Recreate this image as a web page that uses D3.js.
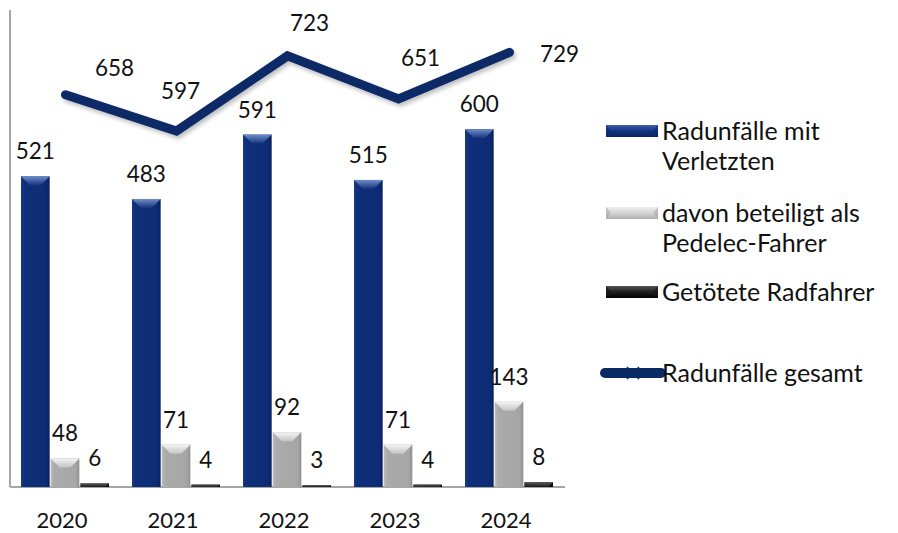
<!DOCTYPE html>
<html>
<head>
<meta charset="utf-8">
<script src="https://cdn.jsdelivr.net/npm/d3@7"></script>
<style>
  body { margin: 0; background: #fff; }
  svg text { font-family: Lato, "Open Sans", sans-serif; fill: #111; }
</style>
</head>
<body>
<div id="chart"></div>
<script>
const years = ['2020', '2021', '2022', '2023', '2024']
const verletzte = [521, 483, 591, 515, 600]
const pedelec = [48, 71, 92, 71, 143]
const getoetet = [6, 4, 3, 4, 8]
const gesamt = [658, 597, 723, 651, 729]
const seriesNames = ['Radunfälle mit Verletzten', 'davon beteiligt als Pedelec-Fahrer', 'Getötete Radfahrer', 'Radunfälle gesamt']

// manual label offsets for the line labels (Excel placed them by hand)
const lineLabelOffsets = [[49, -19], [4, -32], [22, -25], [22, -33], [50, 10]]

const W = 898, H = 533
const margin = { top: 10, right: 333, bottom: 46, left: 10 }
const width = W - margin.left - margin.right
const height = H - margin.top - margin.bottom

const svg = d3.select('#chart').append('svg')
  .attr('width', W)
  .attr('height', H)

const defs = svg.append('defs')

function hGrad(id, stops) {
  let g = defs.append('linearGradient').attr('id', id)
    .attr('x1', 0).attr('x2', 1).attr('y1', 0).attr('y2', 0)
  stops.forEach(s => g.append('stop').attr('offset', s[0]).attr('stop-color', s[1]))
}
function vGrad(id, stops) {
  let g = defs.append('linearGradient').attr('id', id)
    .attr('x1', 0).attr('x2', 0).attr('y1', 0).attr('y2', 1)
  stops.forEach(s => g.append('stop').attr('offset', s[0]).attr('stop-color', s[1]))
}

const styles = [
  { base: '#0d2c74', side: 'g-blue-side', top: 'g-blue-top', leg: 'g-blue-leg' },
  { base: '#a9a9a9', side: 'g-gray-side', top: 'g-gray-top', leg: 'g-gray-leg' },
  { base: '#161616', side: 'g-black-side', top: 'g-black-top', leg: 'g-black-leg' }
]
hGrad('g-blue-side', [[0, '#1a3a85'], [0.12, '#0f2f7a'], [0.88, '#0d2c74'], [1, '#081f57']])
vGrad('g-blue-top', [[0, '#6f8cc8'], [1, '#14347e']])
vGrad('g-blue-leg', [[0, '#3e5fa8'], [0.5, '#12337e'], [1, '#0a2463']])
hGrad('g-gray-side', [[0, '#bdbdbd'], [0.12, '#ababab'], [0.88, '#a6a6a6'], [1, '#8e8e8e']])
vGrad('g-gray-top', [[0, '#f4f4f4'], [1, '#c4c4c4']])
vGrad('g-gray-leg', [[0, '#f0f0f0'], [0.5, '#d4d4d4'], [1, '#b0b0b0']])
hGrad('g-black-side', [[0, '#2a2a2a'], [0.5, '#161616'], [1, '#0b0b0b']])
vGrad('g-black-top', [[0, '#5a5a5a'], [1, '#1c1c1c']])
vGrad('g-black-leg', [[0, '#555'], [0.5, '#1e1e1e'], [1, '#000']])

const filt = defs.append('filter').attr('id', 'shadow')
  .attr('x', '-10%').attr('y', '-20%').attr('width', '130%').attr('height', '150%')
filt.append('feDropShadow').attr('dx', 2).attr('dy', 3).attr('stdDeviation', 2)
  .attr('flood-color', '#000').attr('flood-opacity', 0.25)

const g = svg.append('g').attr('transform', `translate(${margin.left},${margin.top})`)

const x0 = d3.scaleBand().domain(years).range([0, width]).padding(0)
const x1 = d3.scaleBand().domain([0, 1, 2]).range([11, x0.bandwidth() - 11]).padding(0)
const y = d3.scaleLinear().domain([0, 800]).range([height, 0])

const barData = [verletzte, pedelec, getoetet]

// axes (just lines, no ticks)
g.append('line').attr('x1', 0).attr('x2', 0).attr('y1', 0).attr('y2', height)
  .attr('stroke', '#a6a6a6').attr('stroke-width', 2)
g.append('line').attr('x1', 0).attr('x2', width).attr('y1', height).attr('y2', height)
  .attr('stroke', '#a6a6a6').attr('stroke-width', 2)

barData.forEach((vals, si) => {
  let st = styles[si]
  let grp = g.append('g').attr('class', 'series-' + si)
  let bars = grp.selectAll('.bar')
    .data(vals.map((v, i) => ({ year: years[i], v: v })))
    .enter().append('g')
    .attr('class', 'bar')
    .attr('transform', d => `translate(${x0(d.year) + x1(si)}, ${y(d.v)})`)

  let bw = x1.bandwidth() - 1
  bars.append('rect')
    .attr('width', bw)
    .attr('height', d => height - y(d.v))
    .attr('fill', `url(#${st.side})`)

  bars.append('path')
    .attr('d', d => {
      let h = height - y(d.v)
      let b = Math.min(9, h)
      return `M0,0 L${bw},0 L${bw - b},${b} L${b},${b} Z`
    })
    .attr('fill', `url(#${st.top})`)

  grp.selectAll('.lbl')
    .data(vals)
    .enter().append('text')
    .attr('class', 'lbl')
    .attr('x', (d, i) => x0(years[i]) + x1(si) + bw / 2)
    .attr('y', d => y(d) - 17)
    .attr('text-anchor', 'middle')
    .attr('font-size', 22.5)
    .text(d => d)
})

// line series
const line = d3.line()
  .x((d, i) => x0(years[i]) + x0.bandwidth() / 2)
  .y(d => y(d))

g.append('path')
  .datum(gesamt)
  .attr('d', line)
  .attr('fill', 'none')
  .attr('stroke', '#0a2a66')
  .attr('stroke-width', 9)
  .attr('stroke-linecap', 'round')
  .attr('stroke-linejoin', 'miter')
  .attr('filter', 'url(#shadow)')

g.selectAll('.line-lbl')
  .data(gesamt)
  .enter().append('text')
  .attr('class', 'line-lbl')
  .attr('x', (d, i) => x0(years[i]) + x0.bandwidth() / 2 + lineLabelOffsets[i][0])
  .attr('y', (d, i) => y(d) + lineLabelOffsets[i][1])
  .attr('text-anchor', 'middle')
  .attr('font-size', 22.5)
  .text(d => d)

// category labels
g.selectAll('.year')
  .data(years)
  .enter().append('text')
  .attr('class', 'year')
  .attr('x', d => x0(d) + x0.bandwidth() / 2 - 3.5)
  .attr('y', height + 41)
  .attr('text-anchor', 'middle')
  .attr('font-size', 22)
  .text(d => d)

// legend
const legend = svg.append('g').attr('transform', 'translate(606, 0)')
const legendRows = [
  { lines: ['Radunfälle mit', 'Verletzten'], y: 131, type: 0 },
  { lines: ['davon beteiligt als', 'Pedelec-Fahrer'], y: 213, type: 1 },
  { lines: ['Getötete Radfahrer'], y: 292, type: 2 },
  { lines: ['Radunfälle gesamt'], y: 373, type: 3 }
]
legendRows.forEach(r => {
  let it = legend.append('g').attr('transform', `translate(0, ${r.y})`)
  if (r.type < 3) {
    let st = styles[r.type]
    it.append('path')
      .attr('d', 'M0,-6 L52,-6 L52,6 L0,6 Z')
      .attr('fill', `url(#${st.leg})`)
    it.append('path')
      .attr('d', 'M0,-6 L5,0 L0,6 Z M52,-6 L47,0 L52,6 Z')
      .attr('fill', st.base).attr('opacity', 0.6)
  } else {
    it.append('line').attr('x1', -1).attr('x2', 55).attr('y1', 0).attr('y2', 0)
      .attr('stroke', '#0a2a66').attr('stroke-width', 10).attr('stroke-linecap', 'round')
    it.append('path').attr('d', 'M21,-6 L33,6 M21,6 L33,-6')
      .attr('stroke', '#0a2a66').attr('stroke-width', 1.5)
  }
  r.lines.forEach((t, k) => {
    it.append('text')
      .attr('x', 56)
      .attr('y', 9 + k * 30)
      .attr('font-size', 25)
      .text(t)
  })
})
</script>
</body>
</html>
